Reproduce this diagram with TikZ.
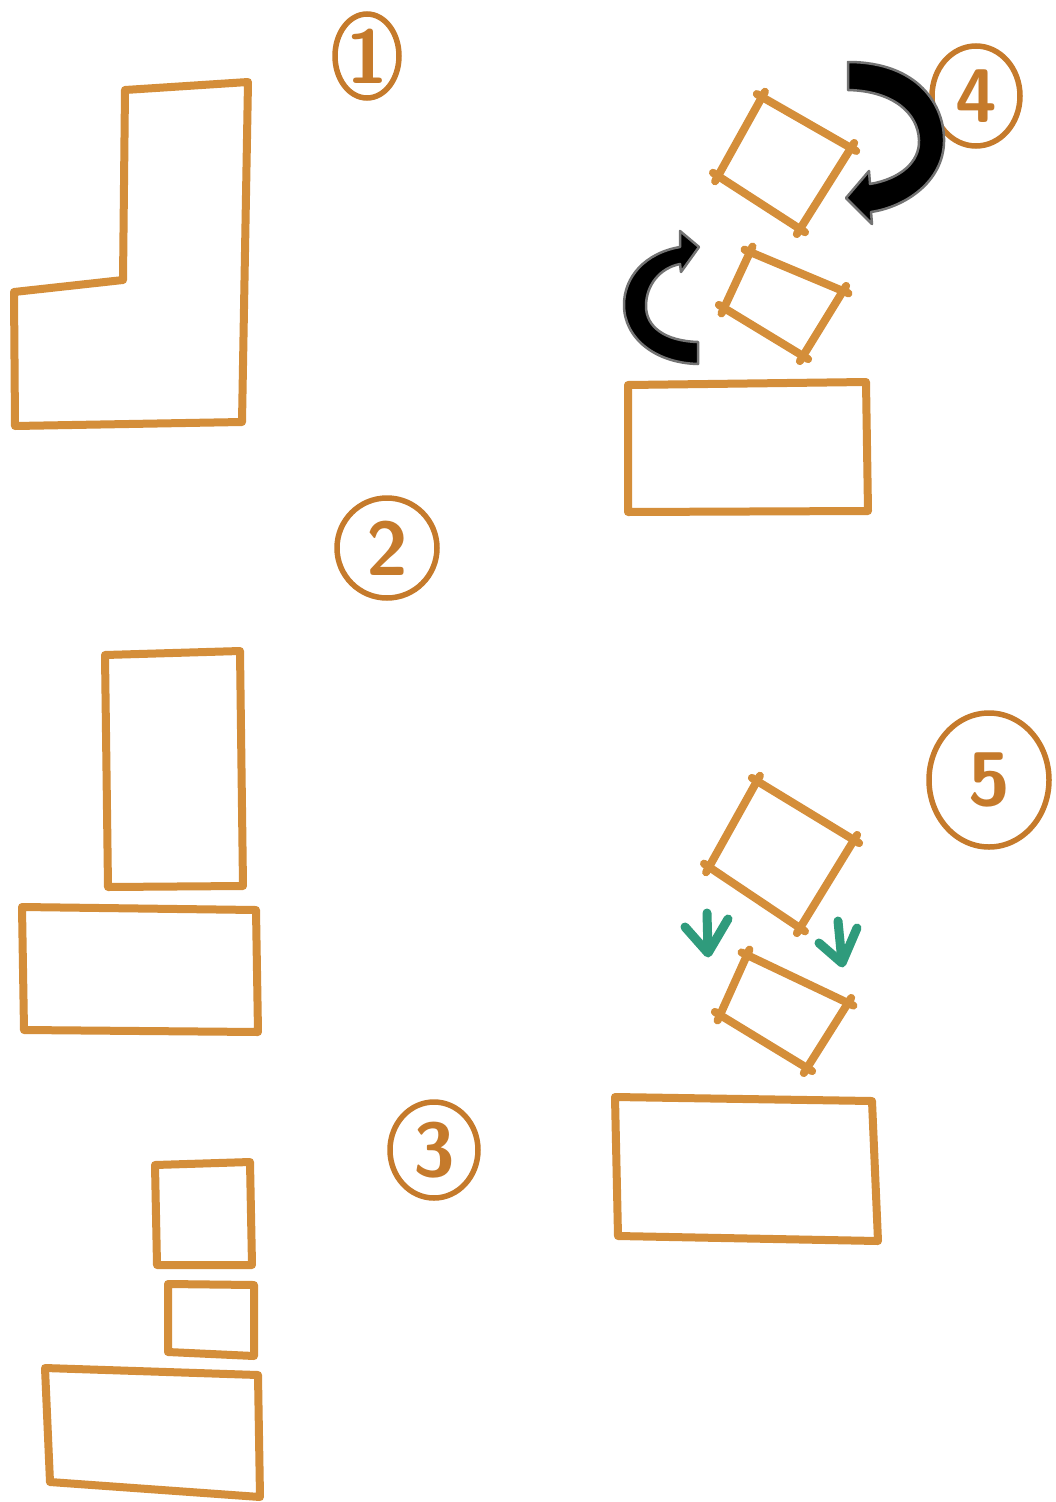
\documentclass[tikz,border=0pt]{standalone}
\usepackage{fontspec}
\usetikzlibrary{shapes.geometric}
\definecolor{ink}{HTML}{D48E3A}
\definecolor{inkdark}{HTML}{C57A2B}
\definecolor{greenink}{HTML}{2F9B7C}
\newcommand{\sksq}[4]{%
  \draw[sk] #1 -- #2; \draw[sk] #2 -- #3; \draw[sk] #3 -- #4; \draw[sk] #4 -- #1;}
\begin{document}
\begin{tikzpicture}[x=1pt,y=-1pt,
  box/.style={draw=ink, line width=8pt, line join=round, line cap=round},
  sk/.style={draw=ink, line width=8pt, line cap=round, shorten <=-6pt, shorten >=-6pt},
  num/.style={draw=inkdark, ellipse, line width=5.5pt, text=inkdark, inner sep=0pt,
    font=\sffamily\bfseries\fontsize{76}{76}\selectfont},
  bigarrow/.style={fill=black, draw=black!55, line width=2.5pt, line join=round},
  gr/.style={draw=greenink, line width=9pt, line cap=round, line join=round}]
\path[use as bounding box, fill=white] (0,0) rectangle (1055,1502);

% ---------- 1 ----------
\node[num, minimum width=64pt, minimum height=84pt] (c1) at (367,56) {1};
\draw[box] (125,90) -- (248,82) -- (242,422) -- (15,426) -- (14,292) -- (123,280) -- cycle;

% ---------- 2 ----------
\node[num, minimum width=100pt, minimum height=100pt] (c2) at (387,548) {2};
\draw[box] (105,655) -- (240,651) -- (243,886) -- (108,887) -- cycle;
\draw[box] (22,907) -- (256,910) -- (258,1032) -- (24,1030) -- cycle;

% ---------- 3 ----------
\node[num, minimum width=88pt, minimum height=96pt] (c3) at (434,1150) {3};
\draw[box] (155,1165) -- (250,1162) -- (252,1265) -- (157,1265) -- cycle;
\draw[box] (168,1284) -- (254,1285) -- (254,1356) -- (168,1352) -- cycle;
\draw[box] (45,1368) -- (258,1375) -- (260,1497) -- (50,1482) -- cycle;

% ---------- 4 ----------
\node[num, minimum width=88pt, minimum height=100pt] (c4) at (976,96) {4};
\sksq{(762,97)}{(851,148)}{(800,229)}{(718,176)}
\sksq{(750,252)}{(843,291)}{(803,356)}{(724,308)}
\draw[box] (628,385) -- (866,382) -- (868,511) -- (628,512) -- cycle;
% big black arrow
\draw[bigarrow] (848,62) .. controls (918,62) and (945,105) .. (944,142)
  .. controls (943,182) and (905,207) .. (871,212)
  -- (872,224) -- (846,198) -- (869,171) -- (870,184)
  .. controls (900,179) and (920,162) .. (919,140)
  .. controls (918,113) and (893,91) .. (848,90) -- cycle;
% small black arrow
\draw[bigarrow] (698,342) .. controls (665,341) and (646,327) .. (646,306)
  .. controls (646,285) and (660,268) .. (680,264)
  -- (681,272) -- (699,247) -- (680,231) -- (680,247)
  .. controls (645,253) and (624,277) .. (624,305)
  .. controls (624,338) and (655,363) .. (698,364) -- cycle;

% ---------- 5 ----------
\node[num, minimum width=120pt, minimum height=134pt] (c5) at (989,780) {5};
\sksq{(757,781)}{(854,840)}{(800,928)}{(709,867)}
\sksq{(747,955)}{(848,1003)}{(807,1068)}{(720,1015)}
\draw[gr] (707,913) -- (708,952);
\draw[gr] (685,927) -- (708,953) -- (728,919);
\draw[gr] (838,921) -- (842,962);
\draw[gr] (819,943) -- (842,963) -- (857,928);
\draw[box] (615,1097) -- (872,1101) -- (878,1241) -- (618,1236) -- cycle;
\end{tikzpicture}
\end{document}
